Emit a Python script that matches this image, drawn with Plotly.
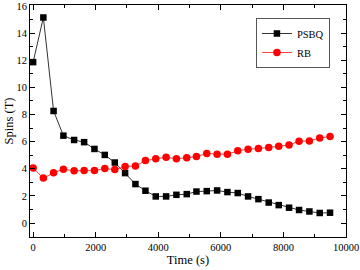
import plotly.graph_objects as go

time_s = [0, 327, 654, 968, 1310, 1630, 1960, 2290, 2610, 2940, 3270, 3590, 3920, 4250, 4580,
          4910, 5220, 5550, 5880, 6210, 6540, 6870, 7200, 7530, 7850, 8180, 8500, 8830, 9160, 9490]
psbq = [11.86, 15.15, 8.26, 6.44, 6.12, 5.96, 5.46, 5.02, 4.46, 3.68, 2.87, 2.38, 1.96, 1.96, 2.08,
        2.13, 2.32, 2.35, 2.40, 2.28, 2.21, 1.96, 1.76, 1.51, 1.32, 1.13, 0.96, 0.85, 0.74, 0.76]
rb = [4.06, 3.31, 3.70, 3.97, 3.85, 3.87, 3.87, 4.01, 3.94, 4.16, 4.21, 4.60, 4.73, 4.85, 4.73,
      4.82, 4.90, 5.12, 5.07, 5.07, 5.32, 5.44, 5.49, 5.56, 5.66, 5.76, 6.03, 6.05, 6.27, 6.37]

FONT = "Liberation Serif, Times New Roman, serif"

fig = go.Figure()
fig.add_trace(go.Scatter(x=time_s, y=psbq, name="PSBQ", mode="lines+markers",
                         line=dict(color="#333333", width=1),
                         marker=dict(symbol="square", size=6.5, color="black")))
fig.add_trace(go.Scatter(x=time_s, y=rb, name="RB", mode="lines+markers",
                         line=dict(color="#ff4040", width=1),
                         marker=dict(symbol="circle", size=7.5, color="#ff0000")))

axis_common = dict(showgrid=False, zeroline=False, showline=True, linecolor="black", linewidth=1,
                   mirror="allticks", ticks="inside", ticklen=5, tickcolor="black",
                   automargin=False, tickformat="d",
                   tickfont=dict(family=FONT, size=10.5, color="black"))

fig.update_xaxes(range=[-100, 10000], dtick=2000, tick0=0,
                 minor=dict(ticks="inside", ticklen=3, dtick=1000, tick0=0, tickcolor="black"),
                 title=dict(text="Time (s)", font=dict(family=FONT, size=12.5, color="black"), standoff=0),
                 **axis_common)
fig.update_yaxes(range=[-1.03, 16.07], dtick=2, tick0=0,
                 minor=dict(ticks="inside", ticklen=3, dtick=1, tick0=0, tickcolor="black"),
                 title=dict(text="Spins (T)", font=dict(family=FONT, size=12.5, color="black"), standoff=0),
                 **axis_common)

fig.update_layout(width=360, height=270, margin=dict(l=30, r=14, t=5, b=33),
                  paper_bgcolor="white", plot_bgcolor="white",
                  legend=dict(x=0.715, y=0.944, xanchor="left", yanchor="top",
                              bordercolor="#555555", borderwidth=1, bgcolor="white",
                              font=dict(family=FONT, size=10.5, color="black"),
                              itemwidth=30, tracegroupgap=0),
                  showlegend=True)

fig.write_html("out.html", config={"displayModeBar": False},
               post_script="document.body.style.margin='0px';")
